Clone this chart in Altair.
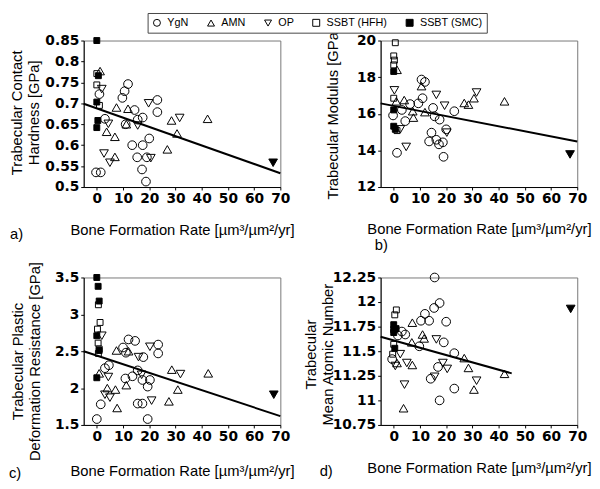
import altair as alt
import pandas as pd

groups = ["YgN", "AMN", "OP", "SSBT (HFH)", "SSBT (SMC)", "OP (outlier)"]
shapes = ["circle", "triangle-up", "triangle-down", "square", "square", "triangle-down"]
fills = ["transparent", "transparent", "transparent", "transparent", "black", "black"]
strokes = ["black"] * 6
code = {"Y": "YgN", "A": "AMN", "O": "OP", "H": "SSBT (HFH)", "S": "SSBT (SMC)", "X": "OP (outlier)"}

x_ticks = [0, 10, 20, 30, 40, 50, 60, 70]
x_title = "Bone Formation Rate [µm³/µm²/yr]"

# ---- panel a : contact hardness
a_grp = ["S", "H", "A", "S", "H", "O", "Y", "S", "H", "S", "S", "Y", "Y", "Y", "O", "A", "O", "O",
         "A", "A", "A", "Y", "Y", "Y", "A", "Y", "A", "Y", "Y", "Y", "Y", "O", "Y", "Y", "Y", "Y",
         "Y", "Y", "O", "O", "Y", "Y", "A", "A", "O", "A", "A", "X"]
a_bfr = [0, 0, 1.25, 0.6, 0, 1.9, 1, 0, 1, 0.4, 0, -0.3, 1.5, 3.1, 4.4, 3.75, 2.75, 5,
         6.9, 6.9, 7.5, 9.75, 10.6, 11.9, 11.9, 11, 11.25, 14.4, 13.5, 15.4, 15.6, 15.6, 17.5, 17.5, 17.25, 18.75,
         19.1, 20, 20.6, 19.75, 23.1, 23.1, 26.9, 28.5, 31.6, 30.6, 42.25, 67.25]
a_val = [0.85, 0.771, 0.777, 0.766, 0.744, 0.734, 0.722, 0.703, 0.695, 0.659, 0.642, 0.535, 0.535, 0.663, 0.651, 0.632, 0.58, 0.558,
         0.572, 0.62, 0.69, 0.713, 0.729, 0.746, 0.687, 0.65, 0.65, 0.684, 0.6, 0.571, 0.661, 0.647, 0.666, 0.6, 0.542, 0.513,
         0.571, 0.616, 0.569, 0.7, 0.708, 0.679, 0.59, 0.659, 0.665, 0.628, 0.663, 0.558]
a_fit_x = [-5, 70]
a_fit_y = [0.699, 0.533]
a_yticks = [0.5, 0.55, 0.6, 0.65, 0.7, 0.75, 0.8, 0.85]

# ---- panel b : modulus
b_grp = ["H", "H", "H", "H", "A", "S", "O", "H", "A", "Y", "S", "S", "S", "H", "O", "Y", "Y", "A",
         "Y", "O", "Y", "A", "A", "Y", "Y", "Y", "Y", "A", "A", "Y", "Y", "Y", "Y", "O", "Y", "Y",
         "Y", "Y", "Y", "O", "Y", "O", "Y", "A", "A", "A", "O", "A", "X"]
b_bfr = [0.6, 0, 0.25, 0, 1.25, 0, 0.25, 0, 1, -0.25, 0, 0, 0.6, 1.25, 2.5, 1.25, 3.1, 4,
         4.4, 4.75, 6.25, 7.25, 7.5, 9.4, 11, 10.6, 11.9, 10.6, 11.9, 13.5, 14.4, 15, 15.6, 16.25, 16.25, 17.5,
         17.25, 18.75, 19, 19.4, 20, 20.25, 23.1, 26.9, 28.5, 30.6, 31.6, 42.25, 67.25]
b_val = [19.88, 19.16, 18.93, 18.67, 18.4, 18.31, 17.28, 16.85, 16.68, 15.91, 16.21, 15.32, 15.15, 15.08, 15.15, 13.87, 16.21, 16.75,
         15.6, 14.19, 16.53, 16.14, 15.79, 16.57, 16.85, 17.87, 17.74, 17.51, 16.09, 14.49, 14.97, 16.32, 15.86, 17.03, 14.58, 15.68,
         14.33, 14.44, 13.65, 16.44, 15.15, 14.97, 16.14, 16.59, 16.5, 16.85, 17.16, 16.68, 13.78]
b_fit_x = [-5, 70]
b_fit_y = [16.57, 14.49]
b_yticks = [12, 14, 16, 18, 20]

# ---- panel c : plastic deformation resistance
c_grp = ["S", "S", "S", "H", "H", "H", "O", "S", "H", "H", "S", "H", "A", "S", "Y", "Y", "O", "A",
         "O", "O", "Y", "Y", "A", "A", "A", "Y", "Y", "A", "Y", "A", "Y", "Y", "Y", "O", "Y", "Y",
         "O", "Y", "Y", "Y", "Y", "Y", "Y", "O", "O", "Y", "Y", "A", "A", "A", "O", "A", "X"]
c_bfr = [0, 0.5, 0.9, 0.6, 1.25, 0.25, 1.9, 0, 0.5, 0.9, 0.9, 0.6, 0.9, 0, 0, 1.5, 3.1, 4,
         5, 4.4, 3.1, 4.6, 7.5, 7.1, 7.75, 10, 11.1, 12.1, 12.1, 11.25, 10.9, 13.6, 14.6, 15.9, 17.75, 15.6,
         17.1, 17.4, 15.6, 17.4, 19.4, 19.4, 20.25, 20.25, 20.9, 23.4, 23.4, 27.5, 28.6, 30.9, 31.9, 42.5, 67.5]
c_val = [3.5, 3.38, 3.18, 3.13, 2.89, 2.8, 2.71, 2.71, 2.61, 2.53, 2.51, 2.47, 2.2, 2.14, 1.58, 1.78, 1.91, 2.0,
         1.87, 2.15, 2.27, 2.31, 2.51, 1.98, 1.73, 2.55, 2.48, 2.5, 2.66, 2.04, 2.13, 2.16, 2.64, 2.42, 2.42, 2.24,
         2.18, 2.11, 1.79, 1.79, 2.02, 1.58, 2.11, 2.56, 1.83, 2.59, 2.47, 1.82, 2.25, 1.98, 2.19, 2.2, 1.91]
c_fit_x = [-5, 70]
c_fit_y = [2.5, 1.62]
c_yticks = [1.5, 2, 2.5, 3, 3.5]

# ---- panel d : mean atomic number
d_grp = ["Y", "Y", "Y", "Y", "H", "H", "S", "S", "S", "S", "Y", "Y", "Y", "H", "S", "H", "Y", "O",
         "A", "O", "O", "O", "A", "A", "A", "A", "Y", "Y", "Y", "A", "A", "Y", "O", "O", "Y", "Y",
         "Y", "O", "O", "Y", "Y", "Y", "A", "A", "A", "O", "A", "X"]
d_bfr = [15.6, 17.5, 15.4, 11.9, 1, 0.4, 0, 0.9, 0, 0, 1.6, 3.1, 4.4, 0, 0.4, -0.4, -0.6, 0.6,
         1.25, 2.5, 5, 4.1, 3.75, 7.1, 7.1, 6.9, 9.75, 10.4, 13.5, 11, 11.6, 14.1, 15.6, 16.25, 16.9, 17.5,
         19.1, 18.75, 20.4, 20, 23.1, 23.1, 26.9, 28.5, 30.6, 31.6, 42.25, 67.5]
d_val = [12.25, 11.99, 11.94, 11.88, 11.92, 11.87, 11.77, 11.73, 11.72, 11.69, 11.66, 11.7, 11.67, 11.57, 11.53, 11.47, 11.42, 11.35,
         11.38, 11.47, 11.38, 11.16, 10.92, 11.36, 11.79, 11.59, 11.55, 11.81, 11.81, 11.67, 11.63, 11.22, 11.24, 11.62, 11.34, 11.0,
         11.59, 11.38, 11.32, 11.8, 11.48, 11.12, 11.43, 11.33, 11.11, 11.2, 11.27, 11.93]
d_fit_x = [-5, 45]
d_fit_y = [11.647, 11.275]
d_yticks = [10.75, 11, 11.25, 11.5, 11.75, 12, 12.25]

SMALL = ["SSBT (HFH)", "SSBT (SMC)"]


def panel(bfr, val, grp, fit_x, fit_y, ydom, yticks, ytitle, w, h,
          ttl_x, ttl_y, xttl_y, tag, tag_x, tag_y):
    df = pd.DataFrame({"bfr": bfr, "val": val, "group": [code[g] for g in grp]})
    fit = pd.DataFrame({"bfr": fit_x, "val": fit_y})
    xe = alt.X("bfr:Q",
               scale=alt.Scale(domain=[-5, 70], nice=False, zero=False),
               axis=alt.Axis(values=x_ticks, title=x_title, labelExpr="datum.value + ''",
                             titleX=w / 2, titleY=xttl_y, titleBaseline="middle",
                             titleAlign="center"))
    ye = alt.Y("val:Q",
               scale=alt.Scale(domain=ydom, nice=False, zero=False),
               axis=alt.Axis(values=yticks, title=ytitle, labelExpr="datum.value + ''",
                             titleX=ttl_x, titleY=ttl_y, titleBaseline="middle",
                             titleAlign="center", titleAngle=270))
    leg = alt.Legend(values=groups[:5], title=None)
    shp = alt.Shape("group:N", scale=alt.Scale(domain=groups, range=shapes), legend=leg)
    fil = alt.Fill("group:N", scale=alt.Scale(domain=groups, range=fills), legend=leg)
    stk = alt.Stroke("group:N", scale=alt.Scale(domain=groups, range=strokes), legend=leg)
    base = alt.Chart(df)
    big = base.transform_filter(
        alt.FieldOneOfPredicate(field="group", oneOf=[g for g in groups if g not in SMALL])
    ).mark_point(size=78, strokeWidth=1, opacity=1).encode(
        x=xe, y=ye, shape=shp, fill=fil, stroke=stk)
    small = base.transform_filter(
        alt.FieldOneOfPredicate(field="group", oneOf=SMALL)
    ).mark_point(size=36, strokeWidth=1, opacity=1).encode(
        x=xe, y=ye, shape=shp, fill=fil, stroke=stk)
    line = alt.Chart(fit).mark_line(color="black", strokeWidth=2).encode(x=xe, y=ye)
    lab = alt.Chart(pd.DataFrame({"t": [tag]})).mark_text(
        align="left", baseline="middle", fontSize=15, font="Liberation Sans", color="black"
    ).encode(text="t:N", x=alt.value(tag_x), y=alt.value(tag_y))
    return alt.layer(line, big, small, lab).properties(width=w, height=h)


pa = panel(a_bfr, a_val, a_grp, a_fit_x, a_fit_y, [0.5, 0.85], a_yticks,
           ["Trabecular Contact", "Hardness [GPa]"], 200, 149,
           -68, 73, 43, "a)", -75, 197)
pb = panel(b_bfr, b_val, b_grp, b_fit_x, b_fit_y, [12, 20], b_yticks,
           "Trabecular Modulus [GPa]", 200, 149,
           -49, 74, 42, "b)", -6, 208)
pc = panel(c_bfr, c_val, c_grp, c_fit_x, c_fit_y, [1.5, 3.5], c_yticks,
           ["Trabecular Plastic", "Deformation Resistance [GPa]"], 200, 150,
           -67, 85, 46, "c)", -76, 199)
pd_ = panel(d_bfr, d_val, d_grp, d_fit_x, d_fit_y, [10.75, 12.25], d_yticks,
            ["Trabecular", "Mean Atomic Number"], 200, 150,
            -71, 78, 43, "d)", -62, 197)

chart = alt.concat(pa, pb, pc, pd_, columns=2, spacing={"row": 92, "column": 102},
                   bounds="flush").properties(
    padding={"left": 0, "top": 0, "right": 0, "bottom": 0}
).configure_view(
    stroke="#777", strokeWidth=1
).configure_axis(
    grid=False, domainColor="black", domainWidth=1, tickColor="black", tickSize=3,
    labelFont="DejaVu Sans", labelFontWeight="bold", labelFontSize=14, labelColor="black",
    labelPadding=2, labelOverlap=False, labelFlush=False,
    titleFont="Liberation Sans", titleFontWeight="normal", titleFontSize=15,
    titleColor="black", titleLineHeight=17
).configure_legend(
    orient="none", legendX=65, legendY=-28, direction="horizontal",
    strokeColor="#444", padding=4, fillColor="white",
    labelFont="Liberation Sans", labelFontSize=11, labelColor="black", labelOffset=5,
    symbolStrokeWidth=1, symbolSize=50, columnPadding=16
)

chart.save("out.html", embed_options={"renderer": "svg", "actions": False})
